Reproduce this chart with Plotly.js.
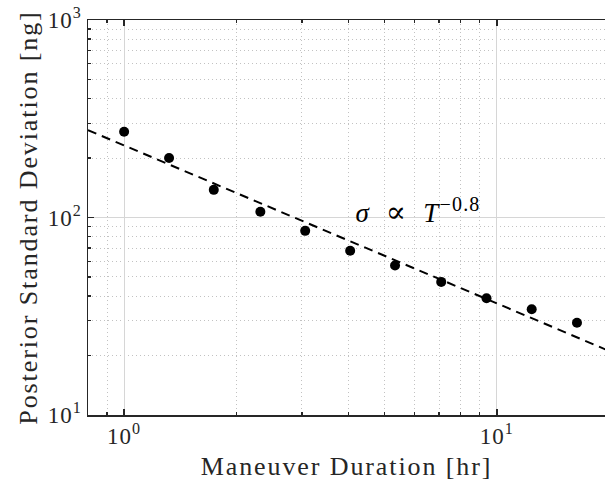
<!DOCTYPE html>
<html>
<head>
<meta charset="utf-8">
<script src="https://cdn.plot.ly/plotly-3.0.1.min.js"></script>
<style>
body{margin:0;padding:0;background:#fff}
#chart{width:605px;height:490px}
#chart text.xtitle, #chart text.ytitle{letter-spacing:1.9px}
#chart .xtick text, #chart .ytick text{letter-spacing:1px}
#chart .annotation-text{letter-spacing:1.2px}
</style>
</head>
<body>
<div id="chart"></div>
<script>
// Data
const durations = [1.0, 1.32, 1.74, 2.32, 3.06, 4.04, 5.33, 7.09, 9.38, 12.4, 16.4];
const stdDevs   = [272, 200, 138, 107, 85.6, 67.8, 57.1, 47.2, 39.0, 34.3, 29.3];
// Dashed power-law guide (σ ∝ T^-0.8), endpoints
const fitX = [0.8, 20];
const fitY = [277, 21.1];
// Tick labels
const xTickVals = [1, 10];
const xTickText = ['10<sup>0</sup>', '10<sup>1</sup>'];
const yTickVals = [10, 100, 1000];
const yTickText = ['10<sup>1</sup>', '10<sup>2</sup>', '10<sup>3</sup>'];
const xMinorVals = [0.8, 0.9, 2, 3, 4, 5, 6, 7, 8, 9, 20];
const yMinorVals = [20, 30, 40, 50, 60, 70, 80, 90, 200, 300, 400, 500, 600, 700, 800, 900];

const FONT = 'Liberation Serif, DejaVu Serif, serif';
const AX = '#262626';

const traces = [
  {
    x: fitX, y: fitY, mode: 'lines', type: 'scatter',
    line: {color: '#000', width: 2, dash: '9px,6px'},
    hoverinfo: 'skip', showlegend: false
  },
  {
    x: durations, y: stdDevs, mode: 'markers', type: 'scatter',
    marker: {color: '#000', size: 10},
    showlegend: false
  }
];

const layout = {
  width: 605, height: 490,
  margin: {l: 88, r: 0, t: 20, b: 75},
  paper_bgcolor: '#fff', plot_bgcolor: '#fff',
  font: {family: FONT, color: AX},
  showlegend: false,
  xaxis: {
    type: 'log',
    range: [Math.log10(0.8), Math.log10(19.5)],
    tickmode: 'array', tickvals: xTickVals, ticktext: xTickText,
    tickfont: {size: 23, family: FONT, color: AX},
    ticks: 'inside', ticklen: 6, tickwidth: 1.3, tickcolor: AX,
    showline: true, linecolor: AX, linewidth: 1.5, mirror: 'ticks',
    showgrid: true, gridcolor: '#d6d6d6', gridwidth: 1,
    zeroline: false,
    minor: {tickmode: 'array', tickvals: xMinorVals, ticks: 'inside', ticklen: 3, tickcolor: AX,
            showgrid: true, gridcolor: '#c2c2c2', griddash: '1px,3px', gridwidth: 1},
    title: {text: 'Maneuver Duration [hr]', font: {size: 26, family: FONT, color: AX}, standoff: 8}
  },
  yaxis: {
    type: 'log',
    range: [1, 3],
    tickmode: 'array', tickvals: yTickVals, ticktext: yTickText,
    tickfont: {size: 23, family: FONT, color: AX},
    ticks: 'inside', ticklen: 6, tickwidth: 1.3, tickcolor: AX,
    showline: true, linecolor: AX, linewidth: 1.5, mirror: false,
    showgrid: true, gridcolor: '#d6d6d6', gridwidth: 1,
    zeroline: false,
    minor: {tickmode: 'array', tickvals: yMinorVals, ticks: 'inside', ticklen: 3, tickcolor: AX,
            showgrid: true, gridcolor: '#c2c2c2', griddash: '1px,3px', gridwidth: 1},
    title: {text: 'Posterior Standard Deviation [ng]', font: {size: 26, family: FONT, color: AX}, standoff: 6}
  },
  annotations: [{
    x: Math.log10(4.3), y: Math.log10(108), xref: 'x', yref: 'y',
    xanchor: 'left', yanchor: 'middle', showarrow: false,
    text: '<i>σ</i>&nbsp;&nbsp;<span style="font-size:30px">∝</span>&nbsp;&nbsp;<i>T</i><sup><span style="font-size:20px">−0.8</span></sup>',
    font: {size: 27, family: FONT, color: '#000'}
  }]
};

Plotly.newPlot('chart', traces, layout, {displayModeBar: false, staticPlot: true});
</script>
</body>
</html>
